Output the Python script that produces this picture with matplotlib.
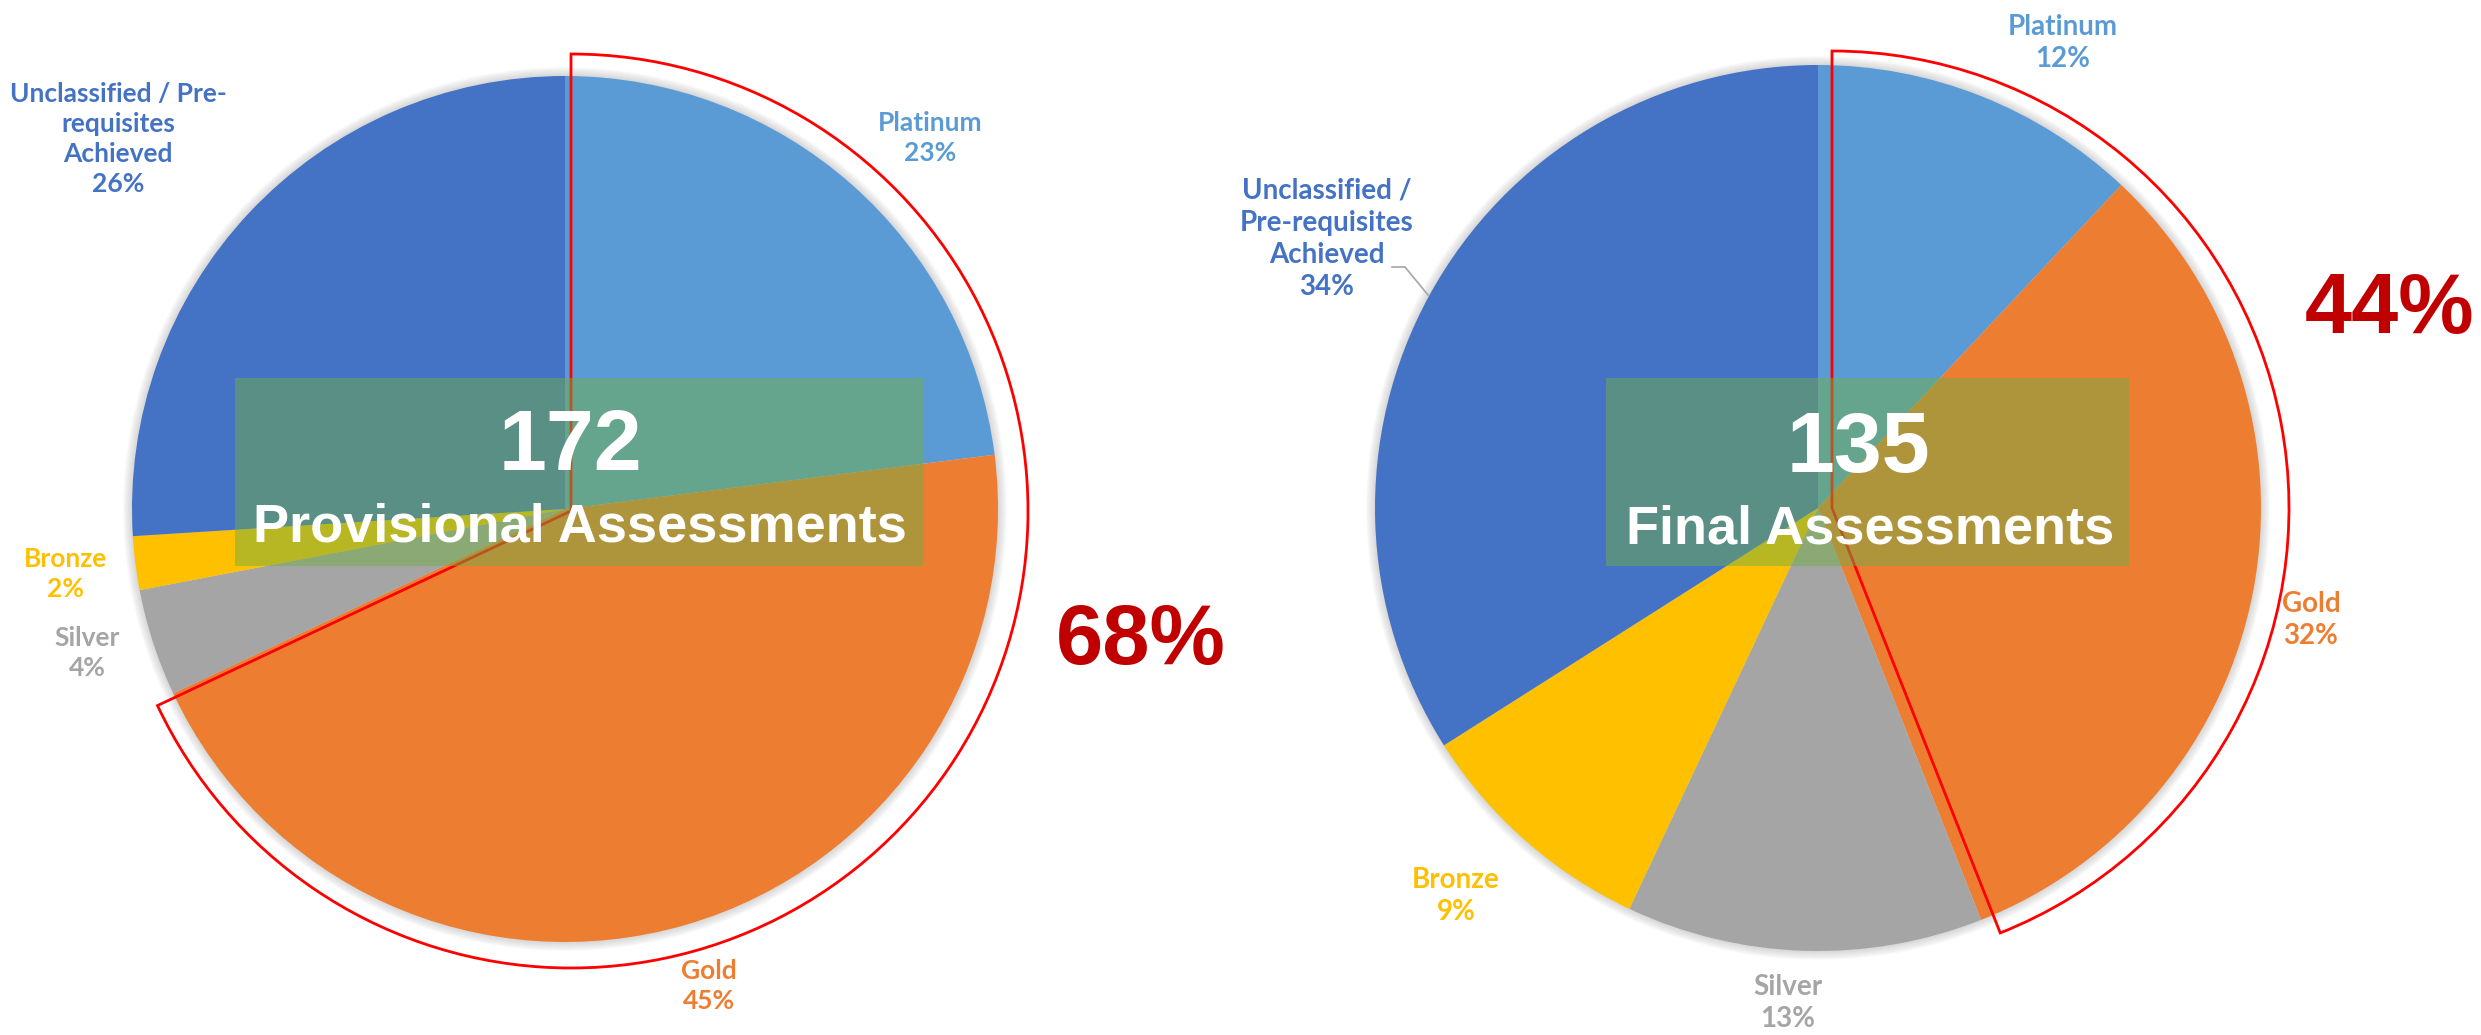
import matplotlib
matplotlib.use('Agg')
import matplotlib.pyplot as plt
from matplotlib.patches import Rectangle, Circle

# data
categories = ['Platinum', 'Gold', 'Silver', 'Bronze', 'Unclassified']
prov_values = [23, 45, 4, 2, 26]
final_values = [12, 32, 13, 9, 34]
prov_total = 172
final_total = 135
prov_labels = ['Platinum', 'Gold', 'Silver', 'Bronze', 'Unclassified / Pre-\nrequisites\nAchieved']
final_labels = ['Platinum', 'Gold', 'Silver', 'Bronze', 'Unclassified /\nPre-requisites\nAchieved']

colors = ['#5B9BD5', '#ED7D31', '#A5A5A5', '#FFC000', '#4472C4']
narrow = ['Liberation Sans Narrow', 'Liberation Sans', 'DejaVu Sans']
label_font = ['Lato', 'DejaVu Sans']

W, H = 2481, 1035
fig = plt.figure(figsize=(W / 100, H / 100), dpi=100)
ax = fig.add_axes([0, 0, 1, 1])


def draw_pie(values, total, names, title, center, radius, red_center, label_pos, pct_pos, fs, ls):
    # soft shadow round the pie
    for k in range(1, 10):
        ax.add_patch(Circle(center, radius + k, color='gray', alpha=0.035, lw=0, zorder=1))
    # y axis is inverted, so counterclock in data = clockwise on screen
    ax.pie(values, colors=colors, center=center, radius=radius, startangle=-90,
           counterclock=True, wedgeprops=dict(linewidth=0, zorder=2))
    # red outline round Platinum + Gold
    top = values[0] + values[1]
    w, _ = ax.pie([top, 100 - top], center=red_center, radius=457, startangle=-90,
                  counterclock=True, colors=['none', 'none'],
                  wedgeprops=dict(linewidth=2, zorder=5))
    w[0].set_edgecolor('#FF0000')
    w[1].set_edgecolor('none')
    # labels
    for name, v, c, (lx, ly) in zip(names, values, colors, label_pos):
        ax.text(lx, ly, f'{name}\n{v}%', color=c, fontsize=fs, fontweight='bold',
                family=label_font, ha='center', va='center', multialignment='center',
                linespacing=ls, zorder=6)
    # box in the middle
    bx0, by0, bx1, by1 = title['box']
    ax.add_patch(Rectangle((bx0, by0), bx1 - bx0, by1 - by0, facecolor='#70AD47',
                           alpha=0.5, lw=0, zorder=7))
    ax.text(title['num_xy'][0], title['num_xy'][1], str(total), color='white', fontsize=62,
            fontweight='bold', family=narrow, ha='center', va='baseline', zorder=8)
    ax.text(title['txt_xy'][0], title['txt_xy'][1], title['text'], color='white', fontsize=39,
            fontweight='bold', family=narrow, ha='center', va='baseline', zorder=8)
    ax.text(pct_pos[0], pct_pos[1], f'{top}%', color='#C00000', fontsize=61,
            fontweight='bold', family=narrow, ha='center', va='baseline', zorder=8)


draw_pie(prov_values, prov_total, prov_labels,
         dict(box=(235, 378, 923, 566), num_xy=(570, 470), txt_xy=(580, 542),
              text='Provisional Assessments'),
         center=(565, 509), radius=433, red_center=(571, 511),
         label_pos=[(930, 138), (709, 986), (87, 653), (65, 574), (118, 139)],
         pct_pos=(1141, 664), fs=19, ls=1.3)

draw_pie(final_values, final_total, final_labels,
         dict(box=(1606, 378, 2129, 566), num_xy=(1858, 472), txt_xy=(1870, 544),
              text='Final Assessments'),
         center=(1818, 508), radius=443, red_center=(1832, 508),
         label_pos=[(2063, 43), (2311, 620), (1788, 1003), (1456, 896), (1327, 239)],
         pct_pos=(2390, 333), fs=20, ls=1.3)

# leader line for the Unclassified label on the right pie
ax.plot([1392, 1405, 1428], [267, 267, 295], color='#A5A5A5', lw=1.2, zorder=6)

ax.set_xlim(0, W)
ax.set_ylim(H, 0)
ax.set_aspect('equal')
ax.axis('off')

fig.savefig('out.png', dpi=100, facecolor='white')
